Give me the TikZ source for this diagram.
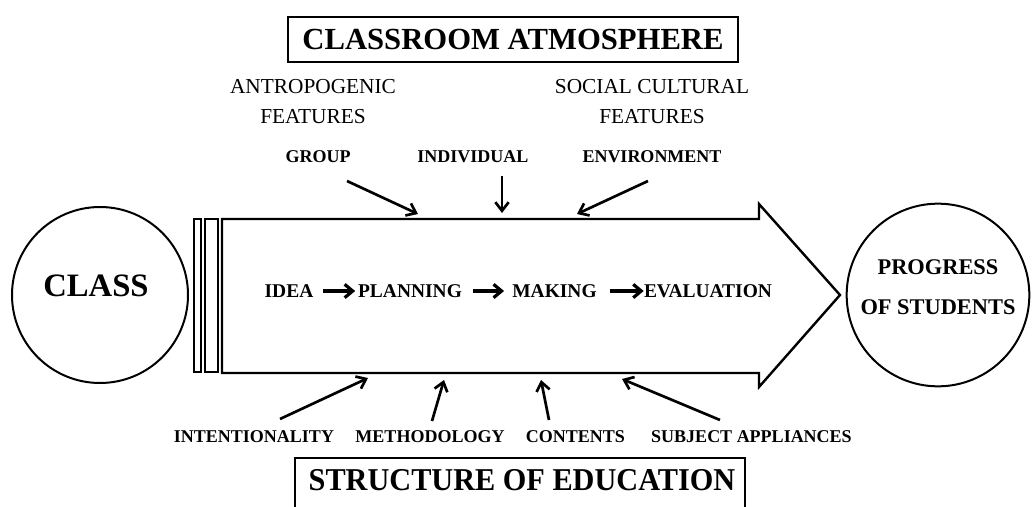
\documentclass[tikz,border=0pt]{standalone}
\usepackage{fontspec}
\setmainfont{Liberation Serif}
\usetikzlibrary{arrows.meta}
\begin{document}
\begin{tikzpicture}[x=0.75pt,y=-0.75pt,
  outline/.style={draw, line width=1.8pt},
  ring/.style={draw, circle, line width=1.5pt, inner sep=0pt},
  infl/.style={-{Straight Barb[length=6.5pt,width=10pt]}, line width=2pt},
  flow/.style={-{Straight Barb[length=6pt,width=10pt]}, line width=2.4pt},
  lbl/.style={inner sep=0pt, font=\fontsize{13.5}{15}\selectfont\bfseries},
  stage/.style={inner sep=0pt, font=\fontsize{14.6}{16}\selectfont\bfseries},
  feat/.style={inner sep=0pt, align=center, font=\fontsize{16}{22.5}\selectfont}
]
\useasboundingbox (0,0) rectangle (1033,507);
\clip (0,0) rectangle (1033,507);

% headline box
\node[outline, minimum width=337.5pt, minimum height=33.75pt, inner sep=0pt]
  (atm) at (513,39.5) {\fontsize{23}{23}\selectfont\bfseries CLASSROOM ATMOSPHERE};

% feature groups
\node[feat] (anthro) at (313,102) {ANTROPOGENIC\\FEATURES};
\node[feat] (social) at (652,102) {SOCIAL CULTURAL\\FEATURES};

\node[lbl] (group) at (318,157) {GROUP};
\node[lbl] (indiv) at (473,157) {INDIVIDUAL};
\node[lbl] (envir) at (652,157) {ENVIRONMENT};

% class circle
\node[ring, minimum size=132pt] (class) at (100,295) {};
\node[inner sep=0pt] (classtxt) at (96,286) {\fontsize{24.5}{25}\selectfont\bfseries CLASS};

% tail bars of the big arrow
\draw[line width=1.5pt] (193.5,219) rectangle (201,372);
\draw[line width=1.5pt] (205,219) rectangle (217.5,372);

% big arrow body
\draw[line width=1.8pt, line join=miter]
  (222,219) -- (759,219) -- (759,204) -- (840,295) -- (759,387) -- (759,373)
  -- (222,373) -- cycle;

% edge points on the arrow body
\coordinate (tgroup) at (418,214);
\coordinate (tindiv) at (502,213);
\coordinate (tenvir) at (577,214);
\coordinate (bint) at (368,378);
\coordinate (bmeth) at (444,380);
\coordinate (bcont) at (541,380);
\coordinate (bsubj) at (622,379);

% arrow tails
\coordinate (sgroup) at (347,181);
\coordinate (sindiv) at (502,176);
\coordinate (senvir) at (648,181);
\coordinate (sint) at (280,419);
\coordinate (smeth) at (432,421);
\coordinate (scont) at (549,420);
\coordinate (ssubj) at (720,420);

\draw[infl] (sgroup) -- (tgroup);
\draw[infl] (sindiv) -- (tindiv);
\draw[infl] (senvir) -- (tenvir);
\draw[infl] (sint) -- (bint);
\draw[infl] (smeth) -- (bmeth);
\draw[infl] (scont) -- (bcont);
\draw[infl] (ssubj) -- (bsubj);

% stages inside the arrow
\node[stage] (idea) at (289,291) {IDEA};
\node[stage] (plan) at (410,291) {PLANNING};
\node[stage] (make) at (554.5,291) {MAKING};
\node[stage] (eval) at (708,291) {EVALUATION};
\draw[flow] ([xshift=7pt]idea.east) -- ([xshift=-2pt]plan.west);
\draw[flow] ([xshift=8pt]plan.east) -- ([xshift=-6pt]make.west);
\draw[flow] ([xshift=10pt]make.east) -- ([xshift=0pt]eval.west);

% progress circle
\node[ring, minimum size=137pt] (prog) at (938,295) {};
\node[inner sep=0pt, align=center, font=\fontsize{16.8}{30}\selectfont\bfseries]
  (progtxt) at (938,287) {PROGRESS\\OF STUDENTS};

% bottom labels
\node[lbl] (intent) at (254,437) {INTENTIONALITY};
\node[lbl] (method) at (430,437) {METHODOLOGY};
\node[lbl] (cont) at (575.5,437) {CONTENTS};
\node[lbl] (subj) at (751.5,437) {SUBJECT APPLIANCES};

% lower box, running off the bottom edge
\draw[line width=1.8pt] (295,458) rectangle (745,540);
\node[inner sep=0pt, yscale=1.05, transform shape] (struct) at (522,480)
  {\fontsize{22.7}{23}\selectfont\bfseries STRUCTURE OF EDUCATION};
\end{tikzpicture}
\end{document}
